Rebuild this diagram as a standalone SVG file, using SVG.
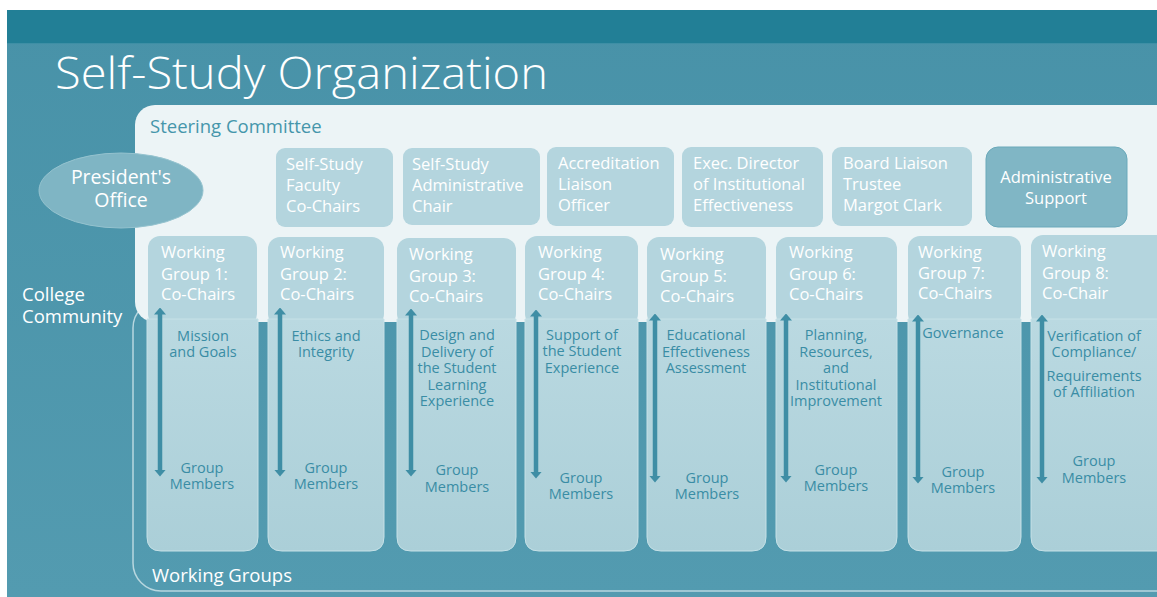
<svg xmlns="http://www.w3.org/2000/svg" width="1157" height="597" viewBox="0 0 1157 597">
<style>
text{font-family:"Open Sans","Noto Sans","DejaVu Sans",sans-serif}
.wt{fill:#ffffff;font-size:16.5px}
.po{fill:#ffffff;font-size:19.5px;text-anchor:middle}
.bt{fill:#3a8da5;font-size:14.5px;text-anchor:middle}
.lbl{fill:#ffffff;font-size:18.5px}
.sb{fill:#b4d5de}
.hdr{fill:#b4d5de}
.low{fill:url(#lowg);stroke:#c6e1e7;stroke-width:1}
.arr{stroke:#3f8ea5;stroke-width:4.5;fill:none;marker-start:url(#ah);marker-end:url(#ah)}
</style>
<defs>
<linearGradient id="bgg" x1="0" y1="0" x2="0" y2="1">
<stop offset="0" stop-color="#4892a8"/>
<stop offset="1" stop-color="#539bb0"/>
</linearGradient>
<linearGradient id="lowg" x1="0" y1="0" x2="0" y2="1">
<stop offset="0" stop-color="#bad9e1"/>
<stop offset="1" stop-color="#abcfd8"/>
</linearGradient>
<marker id="ah" viewBox="0 0 7 12" refX="0.5" refY="6" markerWidth="7" markerHeight="12" markerUnits="userSpaceOnUse" orient="auto-start-reverse">
<path d="M0,0 L7,6 L0,12 Z" fill="#3f8ea5"/>
</marker>
</defs>
<rect x="0" y="0" width="1157" height="597" fill="#ffffff"/>
<rect x="7" y="10" width="1150" height="587" fill="url(#bgg)"/>
<rect x="7" y="10" width="1150" height="33" fill="#227f96"/>
<line x1="7" y1="43.5" x2="1157" y2="43.5" stroke="#3e8fa5" stroke-width="1"/>
<text x="55" y="89" font-size="44" font-weight="300" fill="#ffffff" textLength="493" lengthAdjust="spacingAndGlyphs">Self-Study Organization</text>

<g id="working-groups-panel">
<rect x="133" y="300" width="1050" height="291" rx="28" fill="none" stroke="#b8d7df" stroke-width="1.5"/>
<text class="lbl" x="152" y="582">Working Groups</text>
</g>
<g id="steering-committee">
<rect x="135" y="105" width="1045" height="217" rx="20" fill="#ecf4f6"/>
<text x="150" y="133" font-size="18.5" fill="#4596ab">Steering Committee</text>
</g>
<g id="college-community">
<text class="lbl" x="22" y="301">College</text>
<text class="lbl" x="22" y="323">Community</text>
</g>
<g id="presidents-office">
<ellipse cx="121" cy="190.5" rx="82" ry="37.5" fill="#7fb5c4" stroke="#95c3cf" stroke-width="1"/>
<text class="po" x="121" y="184">President's</text>
<text class="po" x="121" y="207">Office</text>
</g>
<g id="sc-faculty-cochairs">
<rect class="sb" x="276" y="148" width="117" height="79" rx="9"/>
<text class="wt" x="286" y="170">Self-Study<tspan x="286" y="191">Faculty</tspan><tspan x="286" y="212">Co-Chairs</tspan></text>
</g>
<g id="sc-admin-chair">
<rect class="sb" x="403" y="148" width="137" height="77" rx="9"/>
<text class="wt" x="412" y="170">Self-Study<tspan x="412" y="191">Administrative</tspan><tspan x="412" y="212">Chair</tspan></text>
</g>
<g id="sc-alo">
<rect class="sb" x="547" y="147" width="127" height="79" rx="9"/>
<text class="wt" x="558" y="169">Accreditation<tspan x="558" y="190">Liaison</tspan><tspan x="558" y="211">Officer</tspan></text>
</g>
<g id="sc-exec-director">
<rect class="sb" x="682" y="147" width="141" height="80" rx="9"/>
<text class="wt" x="693" y="169">Exec. Director<tspan x="693" y="190">of Institutional</tspan><tspan x="693" y="211">Effectiveness</tspan></text>
</g>
<g id="sc-board-liaison">
<rect class="sb" x="832" y="147" width="140" height="79" rx="9"/>
<text class="wt" x="843" y="169">Board Liaison<tspan x="843" y="190">Trustee</tspan><tspan x="843" y="211">Margot Clark</tspan></text>
</g>
<g id="sc-admin-support">
<rect x="986" y="147" width="141" height="80" rx="12" fill="#80b6c5" stroke="#6aa9ba" stroke-width="1"/>
<text class="wt" x="1056" y="183" text-anchor="middle">Administrative<tspan x="1056" y="204">Support</tspan></text>
</g>

<g id="wg1">
<rect class="hdr" x="148" y="236" width="109" height="90" rx="12"/>
<path class="low" d="M147,319 H258 V537 Q258,551 244,551 H161 Q147,551 147,537 Z"/>
<text class="wt" x="161" y="258">Working<tspan x="161" y="280">Group 1:</tspan><tspan x="161" y="300">Co-Chairs</tspan></text>
<text class="bt" x="203" y="341">Mission<tspan x="203" y="357">and Goals</tspan></text>
<text class="bt" x="202" y="473">Group<tspan x="202" y="489">Members</tspan></text>
</g>
<g id="wg2">
<rect class="hdr" x="268" y="237" width="116" height="89" rx="12"/>
<path class="low" d="M268,319 H384 V537 Q384,551 370,551 H282 Q268,551 268,537 Z"/>
<text class="wt" x="280" y="258">Working<tspan x="280" y="280">Group 2:</tspan><tspan x="280" y="300">Co-Chairs</tspan></text>
<text class="bt" x="326" y="341">Ethics and<tspan x="326" y="357">Integrity</tspan></text>
<text class="bt" x="326" y="473">Group<tspan x="326" y="489">Members</tspan></text>
</g>
<g id="wg3">
<rect class="hdr" x="397" y="238" width="119" height="88" rx="12"/>
<path class="low" d="M397,319 H516 V537 Q516,551 502,551 H411 Q397,551 397,537 Z"/>
<text class="wt" x="409" y="260">Working<tspan x="409" y="282">Group 3:</tspan><tspan x="409" y="302">Co-Chairs</tspan></text>
<text class="bt" x="457" y="340">Design and<tspan x="457" y="356.5">Delivery of</tspan><tspan x="457" y="373">the Student</tspan><tspan x="457" y="389.5">Learning</tspan><tspan x="457" y="406">Experience</tspan></text>
<text class="bt" x="457" y="475">Group<tspan x="457" y="492">Members</tspan></text>
</g>
<g id="wg4">
<rect class="hdr" x="525" y="236" width="113" height="90" rx="12"/>
<path class="low" d="M525,319 H638 V537 Q638,551 624,551 H539 Q525,551 525,537 Z"/>
<text class="wt" x="538" y="258">Working<tspan x="538" y="280">Group 4:</tspan><tspan x="538" y="300">Co-Chairs</tspan></text>
<text class="bt" x="582" y="340">Support of<tspan x="582" y="356">the Student</tspan><tspan x="582" y="372.5">Experience</tspan></text>
<text class="bt" x="581" y="483">Group<tspan x="581" y="498.5">Members</tspan></text>
</g>
<g id="wg5">
<rect class="hdr" x="647" y="237" width="119" height="89" rx="12"/>
<path class="low" d="M647,319 H766 V537 Q766,551 752,551 H661 Q647,551 647,537 Z"/>
<text class="wt" x="660" y="260">Working<tspan x="660" y="282">Group 5:</tspan><tspan x="660" y="302">Co-Chairs</tspan></text>
<text class="bt" x="706" y="340">Educational<tspan x="706" y="356.5">Effectiveness</tspan><tspan x="706" y="373">Assessment</tspan></text>
<text class="bt" x="707" y="483">Group<tspan x="707" y="498.5">Members</tspan></text>
</g>
<g id="wg6">
<rect class="hdr" x="776" y="237" width="121" height="89" rx="12"/>
<path class="low" d="M776,319 H897 V537 Q897,551 883,551 H790 Q776,551 776,537 Z"/>
<text class="wt" x="789" y="258">Working<tspan x="789" y="280">Group 6:</tspan><tspan x="789" y="300">Co-Chairs</tspan></text>
<text class="bt" x="836" y="340">Planning,<tspan x="836" y="356.5">Resources,</tspan><tspan x="836" y="373">and</tspan><tspan x="836" y="389.5">Institutional</tspan><tspan x="836" y="406">Improvement</tspan></text>
<text class="bt" x="836" y="475">Group<tspan x="836" y="491">Members</tspan></text>
</g>
<g id="wg7">
<rect class="hdr" x="908" y="236" width="113" height="90" rx="12"/>
<path class="low" d="M908,319 H1021 V537 Q1021,551 1007,551 H922 Q908,551 908,537 Z"/>
<text class="wt" x="918" y="258">Working<tspan x="918" y="279">Group 7:</tspan><tspan x="918" y="299">Co-Chairs</tspan></text>
<text class="bt" x="963" y="338">Governance</text>
<text class="bt" x="963" y="477">Group<tspan x="963" y="493">Members</tspan></text>
</g>
<g id="wg8">
<rect class="hdr" x="1031" y="235" width="140" height="91" rx="12"/>
<path class="low" d="M1031,319 H1171 V537 Q1171,551 1157,551 H1045 Q1031,551 1031,537 Z"/>
<text class="wt" x="1042" y="257">Working<tspan x="1042" y="279">Group 8:</tspan><tspan x="1042" y="299">Co-Chair</tspan></text>
<text class="bt" x="1094" y="341">Verification of<tspan x="1094" y="357">Compliance/</tspan><tspan x="1094" y="380.5">Requirements</tspan><tspan x="1094" y="397">of Affiliation</tspan></text>
<text class="bt" x="1094" y="466">Group<tspan x="1094" y="483">Members</tspan></text>
</g>

<g id="connectors">
<line class="arr" x1="160" y1="314" x2="160" y2="470"/>
<line class="arr" x1="280" y1="314" x2="280" y2="470"/>
<line class="arr" x1="411" y1="315" x2="411" y2="470"/>
<line class="arr" x1="536" y1="316" x2="536" y2="472"/>
<line class="arr" x1="655" y1="320" x2="655" y2="476"/>
<line class="arr" x1="786" y1="320" x2="786" y2="476"/>
<line class="arr" x1="918" y1="321" x2="918" y2="477"/>
<line class="arr" x1="1042" y1="321" x2="1042" y2="477"/>
</g>
</svg>
